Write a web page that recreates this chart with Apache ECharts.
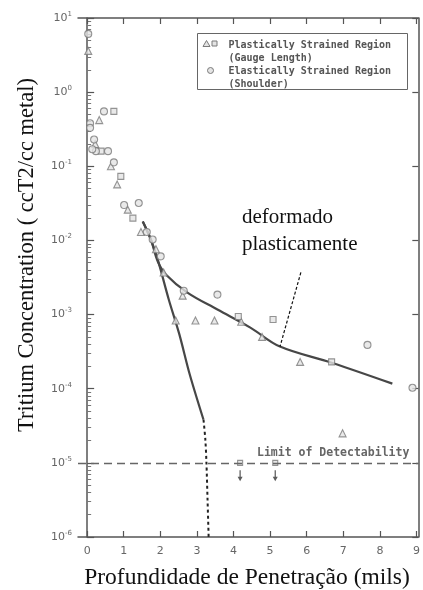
<!DOCTYPE html>
<html>
<head>
<meta charset="utf-8">
<script src="https://cdn.jsdelivr.net/npm/echarts@6/dist/echarts.min.js"></script>
<style>
  html, body { margin: 0; padding: 0; background: #fff; }
  #chart { width: 423px; height: 590px; }
</style>
</head>
<body>
<div id="chart"></div>
<script>
// Axis ticks
const xTickValues = [0, 1, 2, 3, 4, 5, 6, 7, 8, 9];
const yDecades = [1e-6, 1e-5, 1e-4, 1e-3, 1e-2, 1e-1, 1, 10];
const yMinor = [];
for (let d = -6; d < 1; d++) for (let k = 2; k <= 9; k++) yMinor.push(k * Math.pow(10, d));

// Plastically strained region (gauge length), triangle specimens
const plasticTriX = [0.03, 0.33, 0.22, 0.65, 0.82, 1.11, 1.47, 1.88, 2.09, 2.61, 2.42, 2.96, 3.48, 4.21, 4.78, 5.82, 6.98];
const plasticTriY = [3.6, 0.42, 0.20, 0.10, 0.057, 0.026, 0.013, 0.0076, 0.0037, 0.0018, 8.3e-4, 8.3e-4, 8.3e-4, 8.0e-4, 5.0e-4, 2.3e-4, 2.5e-5];

// Plastically strained region (gauge length), square specimens
const plasticSqX = [0.73, 0.38, 0.92, 1.25, 4.13, 5.08, 6.68];
const plasticSqY = [0.55, 0.16, 0.073, 0.020, 9.4e-4, 8.6e-4, 2.3e-4];

// Elastically strained region (shoulder)
const elasticX = [0.03, 0.46, 0.08, 0.08, 0.19, 0.24, 0.57, 0.14, 0.73, 1.01, 1.41, 1.63, 1.79, 2.01, 2.64, 3.56, 7.66, 8.89];
const elasticY = [6.1, 0.55, 0.38, 0.33, 0.23, 0.16, 0.16, 0.17, 0.113, 0.030, 0.032, 0.013, 0.0103, 0.0061, 0.0021, 0.00186, 3.9e-4, 1.03e-4];

// Samples below the detection limit
const belowLimitX = [4.18, 5.14];
const detectLimit = 1e-5;
const xRange = [-0.25, 9.05];

// Fitted profile, plastically deformed material
const fitPlasticX = [1.52, 1.74, 1.93, 2.15, 2.74, 3.56, 4.46, 5.27, 6.68, 8.34];
const fitPlasticY = [0.018, 0.0103, 0.0052, 0.00348, 0.00198, 0.00117, 6.67e-4, 3.70e-4, 2.24e-4, 1.17e-4];

// Fitted profile, elastically strained material
const fitElasticX = [1.52, 1.74, 1.93, 2.23, 2.52, 2.80, 3.18];
const fitElasticY = [0.018, 0.0103, 0.0055, 0.0016, 5.4e-4, 1.58e-4, 3.81e-5];

// Extrapolation of the elastic profile below the limit
const extrapX = [3.18, 3.23, 3.26, 3.29, 3.32];
const extrapY = [3.81e-5, 2.05e-5, 1e-5, 3.2e-6, 1e-6];

// Leader from the annotation to the plastic profile
const leaderX = [5.84, 5.27];
const leaderY = [3.7e-3, 3.7e-4];

const zip = (xs, ys) => xs.map((x, i) => [x, ys[i]]);

const frameColor = '#555';
const markStyle = { color: '#e4e4e4', borderColor: '#7a7a7a', borderWidth: 1.1 };

const chart = echarts.init(document.getElementById('chart'), null, { renderer: 'canvas' });

const xBase = {
  type: 'value', min: xRange[0], max: xRange[1], gridIndex: 0,
  axisLine: { show: true, lineStyle: { color: frameColor, width: 1.5 } },
  splitLine: { show: false }
};
const yBase = {
  type: 'log', logBase: 10, min: 1e-6, max: 10, gridIndex: 0,
  splitLine: { show: false }, minorTick: { show: false }
};

chart.setOption({
  animation: false,
  backgroundColor: '#fff',
  grid: { left: 78, right: 4, top: 18, bottom: 53, containLabel: false },
  xAxis: [
    Object.assign({}, xBase, {
      position: 'bottom',
      axisTick: { show: true, inside: true, length: 6, customValues: xTickValues, lineStyle: { color: frameColor, width: 1.2 } },
      axisLabel: { show: true, customValues: xTickValues, color: '#666', fontSize: 11, fontFamily: 'DejaVu Sans', margin: 9 }
    }),
    Object.assign({}, xBase, {
      position: 'top',
      axisTick: { show: true, inside: true, length: 6, customValues: xTickValues, lineStyle: { color: frameColor, width: 1.2 } },
      axisLabel: { show: false }
    })
  ],
  yAxis: [
    Object.assign({}, yBase, {
      position: 'left',
      axisLine: { show: true, lineStyle: { color: frameColor, width: 1.5 } },
      axisTick: { show: true, inside: true, length: 7, customValues: yDecades, lineStyle: { color: frameColor, width: 1.2 } },
      axisLabel: {
        show: true, customValues: yDecades, margin: 6,
        formatter: v => '{b|10}{s|' + Math.round(Math.log10(v)) + '}',
        rich: {
          b: { fontSize: 11, color: '#666', fontFamily: 'DejaVu Sans' },
          s: { fontSize: 7, color: '#666', fontFamily: 'DejaVu Sans', padding: [0, 0, 8, 0] }
        }
      }
    }),
    Object.assign({}, yBase, {
      position: 'left',
      axisLine: { show: false },
      axisTick: { show: true, inside: true, length: 4, customValues: yMinor, lineStyle: { color: '#777', width: 1 } },
      axisLabel: { show: false }
    }),
    Object.assign({}, yBase, {
      position: 'right',
      axisLine: { show: true, lineStyle: { color: frameColor, width: 1.5 } },
      axisTick: { show: true, inside: true, length: 6, customValues: yDecades, lineStyle: { color: frameColor, width: 1.2 } },
      axisLabel: { show: false }
    })
  ],
  series: [
    {
      name: 'Plastic fit', type: 'line', xAxisIndex: 0, yAxisIndex: 0,
      data: zip(fitPlasticX, fitPlasticY), smooth: 0.35, symbol: 'none',
      lineStyle: { color: '#474747', width: 2.2 }, z: 3,
      markLine: {
        silent: true, symbol: 'none',
        lineStyle: { color: '#111', width: 1.2, type: [3, 2] },
        label: { show: false },
        data: [[{ coord: [leaderX[0], leaderY[0]] }, { coord: [leaderX[1], leaderY[1]] }]]
      }
    },
    {
      name: 'Elastic fit', type: 'line', xAxisIndex: 0, yAxisIndex: 0,
      data: zip(fitElasticX, fitElasticY), smooth: 0.3, symbol: 'none',
      lineStyle: { color: '#474747', width: 2.2 }, z: 3
    },
    {
      name: 'Extrapolation', type: 'line', xAxisIndex: 0, yAxisIndex: 0,
      data: zip(extrapX, extrapY), smooth: 0.3, symbol: 'none',
      lineStyle: { color: '#222', width: 2, type: [3, 3] }, z: 3
    },
    {
      name: 'Plastically Strained Region (triangle)', type: 'scatter', xAxisIndex: 0, yAxisIndex: 0,
      data: zip(plasticTriX, plasticTriY), symbol: 'triangle', symbolSize: 7,
      itemStyle: markStyle, z: 4
    },
    {
      name: 'Plastically Strained Region (square)', type: 'scatter', xAxisIndex: 0, yAxisIndex: 0,
      data: zip(plasticSqX, plasticSqY), symbol: 'rect', symbolSize: 6,
      itemStyle: markStyle, z: 4
    },
    {
      name: 'Elastically Strained Region', type: 'scatter', xAxisIndex: 0, yAxisIndex: 0,
      data: zip(elasticX, elasticY), symbol: 'circle', symbolSize: 7,
      itemStyle: markStyle, z: 4
    },
    {
      name: 'Below limit', type: 'scatter', xAxisIndex: 0, yAxisIndex: 0,
      data: belowLimitX.map(x => [x, detectLimit]), symbol: 'rect', symbolSize: 5,
      itemStyle: markStyle, z: 4,
      // detection limit line with its caption
      markLine: {
        silent: true, symbol: 'none',
        lineStyle: { color: '#666', width: 1.4, type: [8, 5] },
        label: {
          show: true, position: 'insideEndTop', distance: [9, 4],
          formatter: 'Limit of Detectability',
          color: '#666', fontSize: 11.5, fontWeight: 'bold', fontFamily: 'DejaVu Sans Mono'
        },
        data: [[{ coord: [xRange[0], detectLimit] }, { coord: [xRange[1], detectLimit] }]]
      }
    },
    {
      name: 'Below limit arrow', type: 'scatter', xAxisIndex: 0, yAxisIndex: 0,
      data: belowLimitX.map(x => [x, detectLimit]),
      symbol: 'path://M4,0 L6,0 L6,7 L9,7 L5,12 L1,7 L4,7 Z',
      symbolSize: [5, 11], symbolOffset: [0, 13],
      itemStyle: { color: '#333' }, z: 4
    }
  ],
  graphic: [
    // legend box
    {
      type: 'group', left: 197, top: 33,
      children: [
        { type: 'rect', shape: { x: 0, y: 0, width: 210, height: 56 }, style: { fill: '#fff', stroke: '#666', lineWidth: 1 } },
        { type: 'polygon', shape: { points: [[9, 7], [5.5, 13], [12.5, 13]] }, style: { fill: '#e4e4e4', stroke: '#7a7a7a', lineWidth: 1 } },
        { type: 'rect', shape: { x: 14.5, y: 7.5, width: 5, height: 5 }, style: { fill: '#e4e4e4', stroke: '#7a7a7a', lineWidth: 1 } },
        { type: 'circle', shape: { cx: 13, cy: 37, r: 3 }, style: { fill: '#e4e4e4', stroke: '#7a7a7a', lineWidth: 1 } },
        { type: 'text', x: 31, y: 5, style: { text: 'Plastically Strained Region\n(Gauge Length)', fill: '#555', font: 'bold 10px "DejaVu Sans Mono"', lineHeight: 13 } },
        { type: 'text', x: 31, y: 31, style: { text: 'Elastically Strained Region\n(Shoulder)', fill: '#555', font: 'bold 10px "DejaVu Sans Mono"', lineHeight: 13 } }
      ]
    },
    // annotation
    {
      type: 'text', x: 242, y: 204,
      style: { text: 'deformado\nplasticamente', fill: '#111', font: '21px "Liberation Serif"', lineHeight: 27 }
    },
    // axis titles
    {
      type: 'text', x: 247, y: 578,
      style: { text: 'Profundidade de Penetração (mils)', fill: '#111', font: '23.5px "Liberation Serif"', align: 'center', verticalAlign: 'middle' }
    },
    {
      type: 'text', x: 27, y: 255, rotation: Math.PI / 2,
      style: { text: 'Tritium Concentration ( ccT2/cc metal)', fill: '#111', font: '22.5px "Liberation Serif"', align: 'center', verticalAlign: 'middle' }
    }
  ]
});
</script>
</body>
</html>
